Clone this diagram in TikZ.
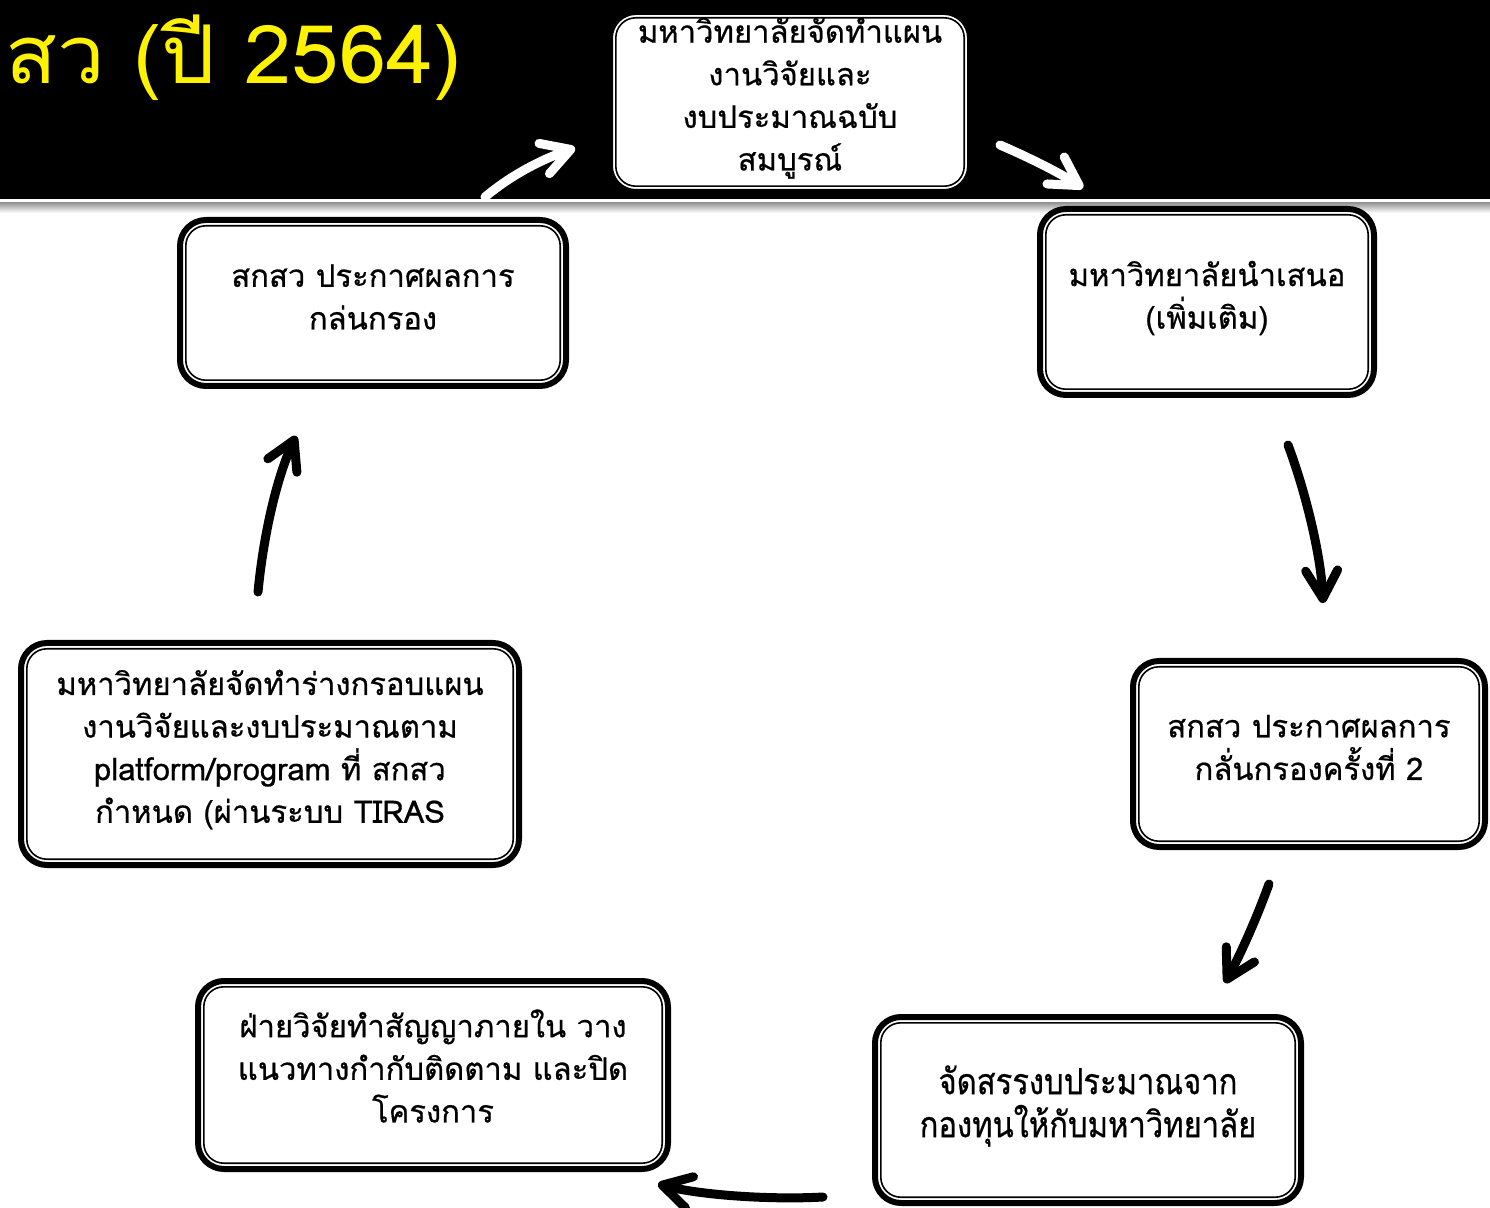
\documentclass[tikz,border=0pt]{standalone}
\usepackage{fontspec}
\newfontfamily\thai[Script=Thai,FakeBold=0.6]{Loma}
\newfontfamily\thaicond[Script=Thai,FakeStretch=0.86,FakeBold=0.6]{Loma}
\newfontfamily\thaititle[Script=Thai,FakeStretch=1.05]{Loma}
\usetikzlibrary{arrows.meta}
\begin{document}
\begin{tikzpicture}[x=0.5pt,y=-0.5pt,
  box/.style={draw=black, line width=3pt, rounded corners=13pt, fill=white,
    inner sep=0pt, outer sep=0pt},
  boxtext/.style={align=center, inner sep=0pt,
    font=\thai\fontsize{15.5}{21.3}\selectfont},
  innerbox/.style={draw=black, line width=0.8pt, rounded corners=10pt},
  arr/.style={line width=4.5pt, line cap=round, line join=round,
    -{Straight Barb[round,length=14pt,width=16pt]}},
  warr/.style={arr, draw=white}
]
\useasboundingbox (0,0) rectangle (1490,1208);
\fill[white] (0,0) rectangle (1490,1208);
% header band
\fill[black] (0,0) rectangle (1490,199);
\shade[top color=gray!80, bottom color=white] (0,203) rectangle (1490,213);
\node[anchor=base west, text=yellow, inner sep=0pt,
  font=\thaititle\fontsize{40.5}{41}\selectfont] (title) at (5,84) {สว (ปี 2564)};

% boxes
\node[box, minimum width=180pt, minimum height=90pt] (b1) at (790,102) {};
\node[box, minimum width=193pt, minimum height=83pt] (b2) at (373,303) {};
\node[box, minimum width=167pt, minimum height=93pt] (b3) at (1207,302) {};
\node[box, minimum width=176pt, minimum height=93pt] (b4) at (1309,754) {};
\node[box, minimum width=213pt, minimum height=93pt] (b5) at (1088,1110) {};
\node[box, minimum width=235pt, minimum height=94pt] (b6) at (433,1075) {};
\node[box, minimum width=249pt, minimum height=111pt] (b7) at (270,754) {};
\foreach \n in {b1,b2,b3,b4,b5,b6,b7}
  \draw[innerbox] ([shift={(2.9pt,2.9pt)}]\n.south west) rectangle ([shift={(-2.9pt,-2.9pt)}]\n.north east);

% box texts
\node[boxtext] (t1) at (790,98)
  {มหาวิทยาลัยจัดทำแผน\\งานวิจัยและ\\งบประมาณฉบับ\\สมบูรณ์};
\node[boxtext] (t2) at (373,297)
  {สกสว ประกาศผลการ\\กล่นกรอง};
\node[boxtext] (t3) at (1207,298)
  {มหาวิทยาลัยนำเสนอ\\(เพิ่มเติม)};
\node[boxtext] (t4) at (1309,747.5)
  {สกสว ประกาศผลการ\\กลั่นกรองครั้งที่ 2};
\node[boxtext, font=\thaicond\fontsize{18}{21.5}\selectfont] (t5) at (1088,1106)
  {จัดสรรงบประมาณจาก\\กองทุนให้กับมหาวิทยาลัย};
\node[boxtext] (t6) at (433,1066)
  {ฝ่ายวิจัยทำสัญญาภายใน วาง\\แนวทางกำกับติดตาม และปิด\\โครงการ};
\node[boxtext] (t7) at (270,749.5)
  {มหาวิทยาลัยจัดทำร่างกรอบแผน\\งานวิจัยและงบประมาณตาม\\platform/program ที่ สกสว\\กำหนด (ผ่านระบบ TIRAS};

% arrow end points
\coordinate (a1s) at (485,197);  \coordinate (a1e) at (575,148);
\coordinate (a2s) at (1000,145); \coordinate (a2e) at (1083,188);
\coordinate (a3s) at (1288,445); \coordinate (a3e) at (1323,603);
\coordinate (a4s) at (1269,884); \coordinate (a4e) at (1225,983);
\coordinate (a5s) at (823,1197); \coordinate (a5e) at (658,1184);
\coordinate (a6s) at (258,592);  \coordinate (a6e) at (296,436);

\draw[warr] (a1s) .. controls (510,176) and (540,160) .. (a1e);
\draw[warr] (a2s) .. controls (1030,158) and (1058,172) .. (a2e);
\draw[arr] (a3s) .. controls (1305,490) and (1321,555) .. (a3e);
\draw[arr] (a4s) .. controls (1256,920) and (1240,955) .. (a4e);
\draw[arr] (a5s) .. controls (770,1200) and (700,1195) .. (a5e);
\draw[arr] (a6s) .. controls (264,530) and (278,475) .. (a6e);
\end{tikzpicture}
\end{document}
